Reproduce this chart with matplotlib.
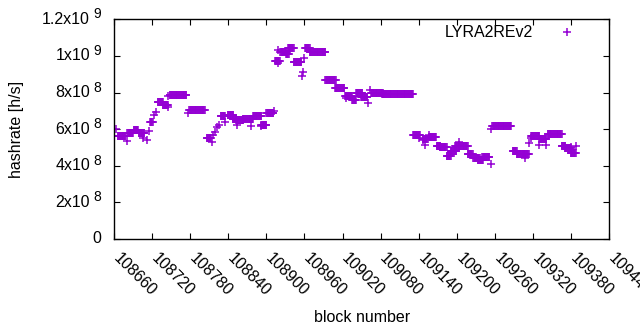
import numpy as np
import matplotlib
matplotlib.use("Agg")
import matplotlib.pyplot as plt
from matplotlib import transforms as mtrans

# runs of consecutive blocks with equal hashrate: (first block, last block, hashrate in 1e6 h/s)
run_start = [108663, 108666, 108680, 108681, 108691, 108699, 108706, 108712, 108715, 108717,
             108723, 108726, 108729, 108737, 108745, 108745, 108748, 108777, 108779, 108806,
             108814, 108816, 108819, 108822, 108825, 108828, 108835, 108839, 108847, 108854,
             108853, 108863, 108876, 108879, 108892, 108892, 108900, 108912, 108914, 108918,
             108919, 108922, 108931, 108934, 108943, 108959, 108957, 108956, 108961, 108968,
             108993, 109008, 109024, 109025, 109035, 109041, 109049, 109060, 109063, 109065,
             109082, 109131, 109140, 109147, 109146, 109150, 109156, 109156, 109168, 109173,
             109184, 109190, 109197, 109203, 109203, 109217, 109226, 109233, 109240, 109253,
             109254, 109256, 109288, 109294, 109304, 109307, 109313, 109316, 109317, 109330,
             109330, 109341, 109343, 109365, 109370, 109379, 109379, 109388]
run_end = [108663, 108678, 108680, 108690, 108698, 108708, 108706, 108712, 108715, 108721,
           108723, 108726, 108737, 108745, 108745, 108745, 108774, 108777, 108803, 108813,
           108814, 108816, 108819, 108822, 108825, 108835, 108835, 108848, 108853, 108854,
           108864, 108879, 108876, 108892, 108892, 108900, 108911, 108912, 108921, 108918,
           108919, 108932, 108935, 108943, 108955, 108959, 108957, 108956, 108968, 108993,
           109009, 109023, 109035, 109025, 109041, 109051, 109059, 109060, 109063, 109083,
           109131, 109142, 109140, 109147, 109154, 109150, 109156, 109167, 109174, 109184,
           109190, 109199, 109203, 109217, 109203, 109225, 109236, 109241, 109251, 109253,
           109254, 109285, 109294, 109304, 109313, 109307, 109313, 109316, 109330, 109341,
           109330, 109341, 109365, 109371, 109379, 109379, 109387, 109388]
run_value = [600, 560, 535, 578, 593, 578, 550, 540, 590, 640,
             677, 693, 748, 732, 720, 780, 785, 690, 705, 550,
             530, 567, 585, 610, 623, 672, 638, 675, 655, 622,
             650, 655, 617, 670, 617, 625, 690, 700, 970, 960,
             1030, 1020, 1010, 1045, 965, 990, 910, 890, 1045, 1020,
             870, 825, 780, 770, 760, 800, 775, 742, 812, 800,
             790, 570, 550, 540, 545, 513, 568, 555, 505, 503,
             455, 480, 510, 505, 530, 465, 440, 430, 445, 410,
             600, 615, 480, 465, 462, 440, 523, 550, 560, 545,
             513, 513, 575, 505, 495, 500, 470, 507]

xticks = list(range(108660, 109441, 60))
yticks = [0, 2e8, 4e8, 6e8, 8e8, 10e8, 12e8]
ytick_main = ["0", "2x10", "4x10", "6x10", "8x10", "1x10", "1.2x10"]
ytick_exp = ["", "8", "8", "8", "8", "9", "9"]

blocks = np.concatenate([np.arange(s, e + 1) for s, e in zip(run_start, run_end)])
rates = np.concatenate([np.full(e - s + 1, v * 1e6) for s, e, v in zip(run_start, run_end, run_value)])

plt.rcParams['font.family'] = ['Liberation Sans', 'DejaVu Sans']
plt.rcParams['font.size'] = 11.5

fig = plt.figure(figsize=(6.4, 3.3), dpi=100)
ax = fig.add_axes([0.178, 0.276, 0.774, 0.6655])

ax.plot(blocks, rates, linestyle='none', marker='+', markersize=5.5, markeredgewidth=1.1,
        color='#9400d3', label='LYRA2REv2')

ax.set_xlim(108660, 109440)
ax.set_ylim(0, 1.2e9)
ax.set_xticks(xticks)
ax.set_xticklabels([str(t) for t in xticks], rotation=-45, ha='left', va='top',
                   rotation_mode='anchor')
ax.set_yticks(yticks)
ax.set_yticklabels([])
ax.tick_params(direction='in', length=4, width=0.8, top=True, right=True,
               labelsize=11.5, colors='black')
ax.tick_params(axis='x', pad=8)
for lab in ax.get_xticklabels():
    lab.set_transform(lab.get_transform() + mtrans.ScaledTranslation(0.07, 0, fig.dpi_scale_trans))
for sp in ax.spines.values():
    sp.set_linewidth(1.0)

# y tick labels in gnuplot style: mantissa + raised exponent
blend = mtrans.blended_transform_factory(ax.transAxes, ax.transData)
for v, m, e in zip(yticks, ytick_main, ytick_exp):
    if e:
        ax.text(0, v, m, transform=mtrans.offset_copy(blend, fig, x=-24, y=0, units='dots'),
                ha='right', va='center', fontsize=11.5, clip_on=False)
        ax.text(0, v, e, transform=mtrans.offset_copy(blend, fig, x=-21, y=5, units='dots'),
                ha='left', va='center', fontsize=10, clip_on=False)
    else:
        ax.text(0, v, m, transform=mtrans.offset_copy(blend, fig, x=-13, y=0, units='dots'),
                ha='right', va='center', fontsize=11.5, clip_on=False)

ax.set_xlabel('block number', labelpad=8)
ax.set_ylabel('hashrate [h/s]')
ax.yaxis.set_label_coords(-0.181, 0.5)

ax.legend(loc='upper right', frameon=False, markerfirst=False, handlelength=1.5,
          handletextpad=1.37, borderaxespad=0, borderpad=0,
          bbox_to_anchor=(0.9385, 0.972), fontsize=11.5)

fig.savefig('out.png', dpi=100)
